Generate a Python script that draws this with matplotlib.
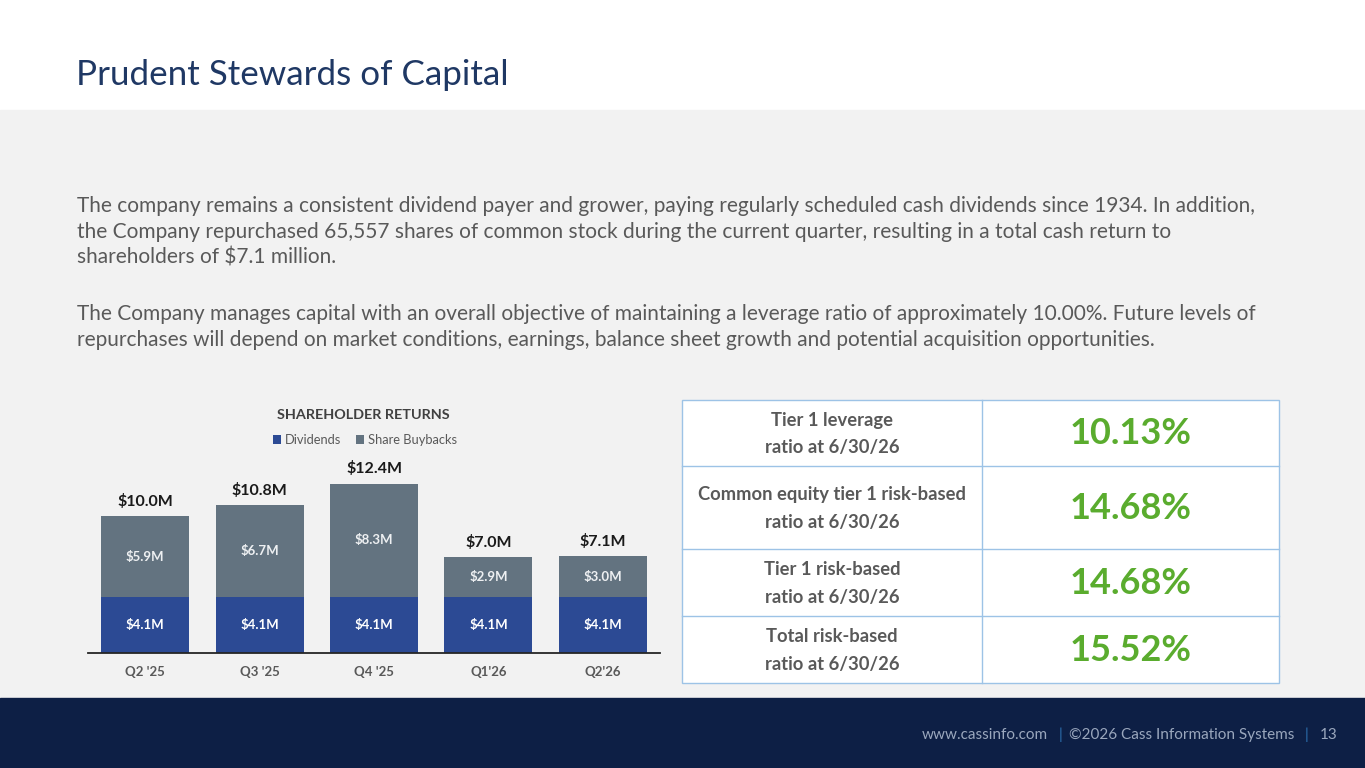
import matplotlib.pyplot as plt
import numpy as np
from matplotlib.patches import Rectangle

plt.rcParams['font.family'] = ['Lato', 'DejaVu Sans']

# data
quarters = ["Q2 '25", "Q3 '25", "Q4 '25", "Q1'26", "Q2'26"]
dividends = [4.1, 4.1, 4.1, 4.1, 4.1]
buybacks = [5.9, 6.7, 8.3, 2.9, 3.0]
totals = [10.0, 10.8, 12.4, 7.0, 7.1]

ratio_labels = ["Tier 1 leverage\nratio at 6/30/26",
                "Common equity tier 1 risk-based\nratio at 6/30/26",
                "Tier 1 risk-based\nratio at 6/30/26",
                "Total risk-based\nratio at 6/30/26"]
ratio_values = ["10.13%", "14.68%", "14.68%", "15.52%"]
row_heights = [66, 83, 67, 67]

para1 = ("The company remains a consistent dividend payer and grower, paying regularly scheduled cash dividends since 1934. In addition,\n"
         "the Company repurchased 65,557 shares of common stock during the current quarter, resulting in a total cash return to\n"
         "shareholders of $7.1 million.")
para2 = ("The Company manages capital with an overall objective of maintaining a leverage ratio of approximately 10.00%. Future levels of\n"
         "repurchases will depend on market conditions, earnings, balance sheet growth and potential acquisition opportunities.")

W, H = 1365, 768
fig = plt.figure(figsize=(W / 100, H / 100), dpi=100)

# background canvas in pixel coordinates
bg = fig.add_axes([0, 0, 1, 1])
bg.set_xlim(0, W)
bg.set_ylim(H, 0)
bg.axis('off')
bg.add_patch(Rectangle((0, 0), W, 110, color='white'))
bg.add_patch(Rectangle((0, 110), W, 588, color='#f2f2f2'))
bg.add_patch(Rectangle((0, 698), W, 70, color='#0d1f45'))

bg.text(76, 75, "Prudent Stewards of Capital", fontsize=25.2, color='#1f3864',
        va='center', ha='left')
bg.text(77, 196, para1, fontsize=15, color='#595959', va='top', ha='left',
        linespacing=1.37)
bg.text(77, 304, para2, fontsize=15, color='#595959', va='top', ha='left',
        linespacing=1.37)

# footer
fc = '#9aa7bd'
bg.text(1048, 735, "www.cassinfo.com", fontsize=11, color=fc, ha='right', va='center')
bg.text(1060, 735, "|", fontsize=11, color='#2e75b6', ha='center', va='center')
bg.text(1069, 735, "\u00a92026 Cass Information Systems", fontsize=11, color=fc, ha='left', va='center')
bg.text(1307, 735, "|", fontsize=11, color='#2e75b6', ha='center', va='center')
bg.text(1338, 735, "13", fontsize=11, color=fc, ha='right', va='center')

# ratio table
tx0, tx1, tdiv = 682, 1279, 982
ty = 400
bg.add_patch(Rectangle((tx0, ty), tx1 - tx0, sum(row_heights), facecolor='white',
                       edgecolor='#9dc3e6', lw=1))
bg.plot([tdiv, tdiv], [ty, ty + sum(row_heights)], color='#9dc3e6', lw=1)
y = ty
for i, (lab, val, rh) in enumerate(zip(ratio_labels, ratio_values, row_heights)):
    if i > 0:
        bg.plot([tx0, tx1], [y, y], color='#9dc3e6', lw=1)
    cy = y + rh / 2
    bg.text((tx0 + tdiv) / 2, cy + 1, lab, fontsize=13.2, fontweight='bold', color='#595959',
            ha='center', va='center', linespacing=1.75)
    bg.text(1131, cy + 1, val, fontsize=26, fontweight='bold', color='#5aac2e',
            ha='center', va='center')
    y += rh

# bar chart
ax = fig.add_axes([88 / W, 1 - 653 / H, (660 - 88) / W, (653 - 470) / H])
ax.set_facecolor('none')
x = np.arange(len(quarters))
bw = 0.77
ax.bar(x, dividends, bw, color='#2c4a94', label='Dividends')
ax.bar(x, buybacks, bw, bottom=dividends, color='#637380', label='Share Buybacks')
for xi, d, b, t in zip(x, dividends, buybacks, totals):
    ax.text(xi, d / 2, f"${d:.1f}M", ha='center', va='center', color='white',
            fontsize=9.5, fontweight='bold')
    ax.text(xi, d + b / 2, f"${b:.1f}M", ha='center', va='center', color='#eef0f2',
            fontsize=9.5, fontweight='bold')
    ax.text(xi, t + 0.55, f"${t:.1f}M", ha='center', va='bottom', color='#1a1a1a',
            fontsize=11.5, fontweight='bold')
ax.set_xlim(-0.5, len(quarters) - 0.5)
ax.set_ylim(0, 183 / 13.66)
ax.set_xticks(x)
ax.set_xticklabels(quarters, fontsize=9.5, color='#595959', fontweight='bold')
ax.tick_params(axis='x', length=0, pad=9)
ax.set_yticks([])
for s in ['top', 'right', 'left']:
    ax.spines[s].set_visible(False)
ax.spines['bottom'].set_color('#262626')
ax.spines['bottom'].set_linewidth(1.3)

bg.text(363, 415, "SHAREHOLDER RETURNS", fontsize=10.4, fontweight='bold', color='#404040',
        ha='center', va='center')
leg = fig.legend(loc='center', bbox_to_anchor=(365 / W, 1 - 440 / H), ncol=2, frameon=False,
                 fontsize=9.3, handlelength=0.6, handleheight=0.6, handletextpad=0.3,
                 columnspacing=1.2, labelcolor='#595959')

fig.savefig('out.png', dpi=100)
